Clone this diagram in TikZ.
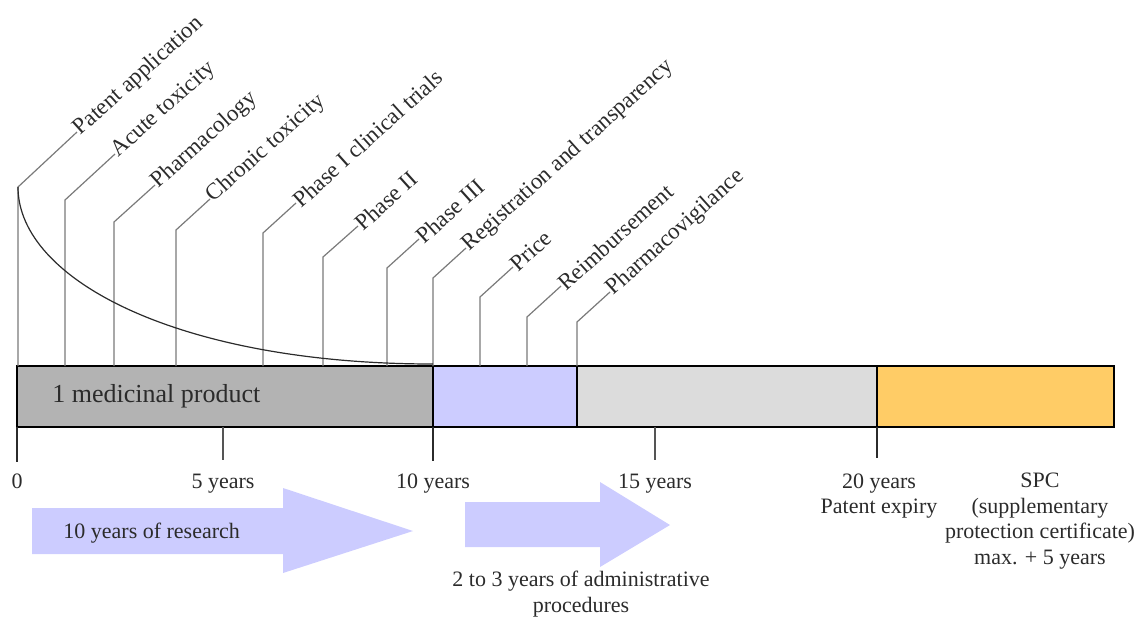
\documentclass[tikz,border=0pt]{standalone}
\usepackage{fontspec}
\setmainfont{Liberation Serif}
\usepackage{xcolor}
\usetikzlibrary{calc}
\definecolor{txtgrey}{HTML}{2B2B2B}
\definecolor{stemgrey}{HTML}{7A7A7A}
\definecolor{researchgrey}{HTML}{B3B3B3}
\definecolor{adminblue}{HTML}{CCCCFF}
\definecolor{marketgrey}{HTML}{DCDCDC}
\definecolor{spcorange}{HTML}{FFCC66}
\definecolor{arrowblue}{HTML}{CCCCFF}

\begin{document}
\begin{tikzpicture}[%
  x=0.5pt, y=-0.5pt,%
  every node/.append style={%
    text=txtgrey,
    inner sep=0pt,
    font=\fontsize{11}{12.75}\selectfont,
  },
  lbl/.style={rotate=42, anchor=west, font=\fontsize{11.5}{13}\selectfont},
  stem/.style={draw=stemgrey, line width=0.6pt},
  tick/.style={draw=txtgrey!80, line width=0.6pt},
  seg/.style={draw=black, line width=0.8pt},
  divider/.style={draw=black, line width=1.3pt},
  yearlbl/.style={anchor=base},
  ]
  \useasboundingbox (0,0) rectangle (1141,617);
% the bar
  \coordinate (B0) at (17,366);
  \coordinate (B10) at (433,366);
  \coordinate (B13) at (577,366);
  \coordinate (B20) at (877,366);
  \coordinate (B25) at (1114,427);
  \filldraw[seg, fill=researchgrey] (B0) rectangle (B10 |- B25);
  \filldraw[seg, fill=adminblue] (B10) rectangle (B13 |- B25);
  \filldraw[seg, fill=marketgrey] (B13) rectangle (B20 |- B25);
  \filldraw[seg, fill=spcorange] (B20) rectangle (B25);
  \draw[divider] (B10) -- (B10 |- B25);
  \draw[divider] (B13) -- (B13 |- B25);
  \draw[divider] (B20) -- (B20 |- B25);
  \node[anchor=west, font=\fontsize{13}{15}\selectfont] (prod) at (52,396) {1 medicinal product};
% milestones
  \coordinate (k1) at (18,187);
  \coordinate (k2) at (65,200);
  \coordinate (k3) at (114,222);
  \coordinate (k4) at (176,230);
  \coordinate (k5) at (263,233);
  \coordinate (k6) at (323,257);
  \coordinate (k7) at (387,268);
  \coordinate (k8) at (433,278);
  \coordinate (k9) at (480,297);
  \coordinate (k10) at (527,317);
  \coordinate (k11) at (577,322);
  \node[lbl] (m1) at (77,132) {Patent application};
  \node[lbl] (m2) at (115,154) {Acute toxicity};
  \node[lbl] (m3) at (155,185) {Pharmacology};
  \node[lbl] (m4) at (210,199) {Chronic toxicity};
  \node[lbl] (m5) at (296,203) {Phase I clinical trials};
  \node[lbl] (m6) at (358,226) {Phase II};
  \node[lbl] (m7) at (419,239) {Phase III};
  \node[lbl] (m8) at (466,248) {Registration and transparency};
  \node[lbl] (m9) at (513,267) {Price};
  \node[lbl] (m10) at (561,286) {Reimbursement};
  \node[lbl] (m11) at (610,292) {Pharmacovigilance};
  \foreach \i in {1,...,11}
    \draw[stem] (k\i |- B0) -- (k\i) -- (m\i.west);
% patent decay curve
  \draw[draw=txtgrey, line width=0.6pt] (k1) .. controls (18,280) and (180,364) .. (433,364);
% time scale
  \coordinate (t0) at (17,462);
  \coordinate (t5) at (223,460);
  \coordinate (t10) at (433,461);
  \coordinate (t15) at (655,460);
  \coordinate (t20) at (877,458);
  \draw[tick, draw=txtgrey] (t0 |- B25) -- (t0);
  \draw[tick] (t5 |- B25) -- (t5);
  \draw[tick, draw=txtgrey] (t10 |- B25) -- (t10);
  \draw[tick] (t15 |- B25) -- (t15);
  \draw[tick, draw=txtgrey] (t20 |- B25) -- (t20);
  \node[yearlbl] (y0) at (17,488) {0};
  \node[yearlbl] (y5) at (223,488) {5 years};
  \node[yearlbl] (y10) at (433,488) {10 years};
  \node[yearlbl] (y15) at (655,488) {15 years};
  \node[anchor=north, align=center] (y20) at (879,473) {20 years\\Patent expiry};
  \node[anchor=north, align=center] (spc) at (1040,473) {SPC\\(supplementary\\protection certificate)\\max. + 5 years};
% phase arrows
  \fill[arrowblue] (32,508) -- (283,508) -- (283,488) -- (413,531) -- (283,573) -- (283,554) -- (32,554) -- cycle;
  \fill[arrowblue] (465,502) -- (600,502) -- (600,482) -- (670,525) -- (600,567) -- (600,547) -- (465,547) -- cycle;
  \node[anchor=west] (research) at (63,533) {10 years of research};
  \node[anchor=north, align=center] (admin) at (581,571) {2 to 3 years of administrative\\procedures};
\end{tikzpicture}
\end{document}
